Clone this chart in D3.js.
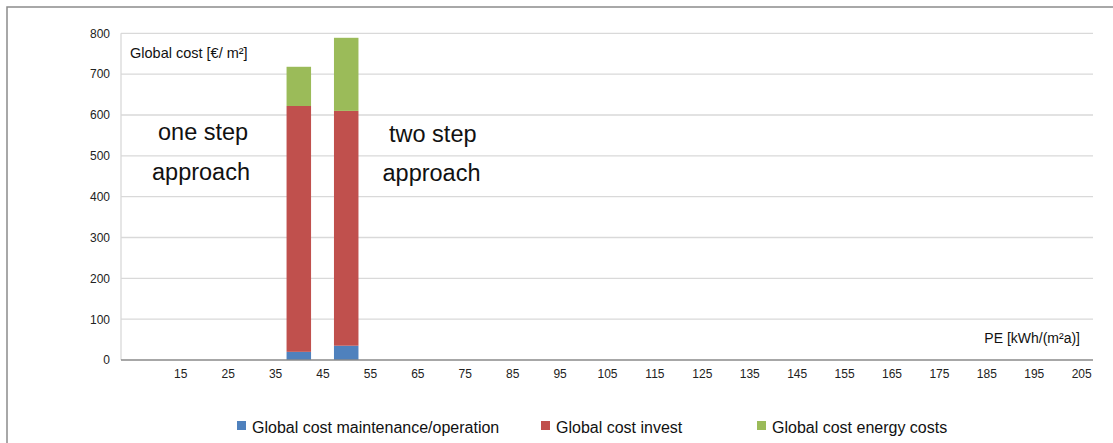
<!DOCTYPE html>
<html>
<head>
<meta charset="utf-8">
<script src="https://cdn.jsdelivr.net/npm/d3@7"></script>
<style>
  html, body { margin: 0; padding: 0; background: #fff; }
  svg { display: block; font-family: "Liberation Sans", Arial, sans-serif; }
</style>
</head>
<body>
<svg id="chart" width="1113" height="443"></svg>
<script>
// ---- data ----
const categories = [40, 50];                       // PE kWh/(m²a)
const maintenance = [20, 35];
const invest = [602, 575];
const energy = [96, 179];
const seriesNames = ["Global cost maintenance/operation", "Global cost invest", "Global cost energy costs"];
const seriesColors = ["#4F81BD", "#C0504D", "#9BBB59"];
const xTicks = [15, 25, 35, 45, 55, 65, 75, 85, 95, 105, 115, 125, 135, 145, 155, 165, 175, 185, 195, 205];
const yTicks = [0, 100, 200, 300, 400, 500, 600, 700, 800];

const svg = d3.select("#chart");
const pL = 121, pR = 1093, pT = 33.3, pB = 360;

// frame
svg.append("rect").attr("x", 7).attr("y", 7).attr("width", 1130).attr("height", 460)
  .attr("fill", "none").attr("stroke", "#8c8c8c").attr("stroke-width", 1.5);

const x = d3.scaleLinear().domain([2.5, 207.5]).range([pL, pR]);
const y = d3.scaleLinear().domain([0, 800]).range([pB, pT]);

// gridlines
svg.append("g").selectAll("line").data(yTicks.filter(d => d > 0)).join("line")
  .attr("x1", pL).attr("x2", pR)
  .attr("y1", d => y(d)).attr("y2", d => y(d))
  .attr("stroke", "#d9d9d9").attr("stroke-width", 1.3);
svg.append("line").attr("x1", pL).attr("x2", pL).attr("y1", pT).attr("y2", pB)
  .attr("stroke", "#d9d9d9").attr("stroke-width", 1.3);

// y axis labels
const yAxis = d3.axisLeft(y).tickValues(yTicks).tickSize(0).tickPadding(0);
const gy = svg.append("g").attr("transform", `translate(${pL - 11},0)`).call(yAxis);
gy.select(".domain").remove();
gy.selectAll("text").attr("font-size", 12).attr("fill", "#222")
  .attr("font-family", "Liberation Sans, Arial, sans-serif").attr("dy", "0.32em");

// stacked bars
const rows = categories.map((c, i) => ({ c, m: maintenance[i], inv: invest[i], e: energy[i] }));
const stack = d3.stack().keys(["m", "inv", "e"])(rows);
const barW = 24.5;
svg.append("g").selectAll("g").data(stack).join("g")
  .attr("fill", (d, i) => seriesColors[i])
  .selectAll("rect").data(d => d).join("rect")
  .attr("x", d => x(d.data.c) - barW / 2)
  .attr("width", barW)
  .attr("y", d => y(d[1]))
  .attr("height", d => y(d[0]) - y(d[1]));

// x axis
const xAxis = d3.axisBottom(x).tickValues(xTicks).tickSize(0).tickPadding(0).tickFormat(d3.format("d"));
const gx = svg.append("g").attr("transform", `translate(0,${pB})`).call(xAxis);
gx.select(".domain").remove();
gx.selectAll("text").attr("font-size", 12).attr("fill", "#222")
  .attr("font-family", "Liberation Sans, Arial, sans-serif").attr("y", 14).attr("dy", "0.32em");
svg.append("line").attr("x1", pL).attr("x2", pR).attr("y1", pB).attr("y2", pB)
  .attr("stroke", "#8a8a8a").attr("stroke-width", 1.5);

// annotations
svg.append("text").attr("x", 130).attr("y", 58).attr("font-size", 14.5).attr("fill", "#111")
  .text("Global cost [€/ m²]");
svg.append("text").attr("x", 1080).attr("y", 343).attr("text-anchor", "end").attr("font-size", 14).attr("fill", "#111")
  .text("PE [kWh/(m²a)]");
const big = [
  { t: "one step", x: 158, y: 140 },
  { t: "approach", x: 152, y: 179.5 },
  { t: "two step", x: 389, y: 141.5 },
  { t: "approach", x: 382.5, y: 181 }
];
svg.append("g").selectAll("text").data(big).join("text")
  .attr("x", d => d.x).attr("y", d => d.y).attr("font-size", 23.5).attr("fill", "#111")
  .text(d => d.t);

// legend
const legX = [237, 541, 757];
const lg = svg.append("g").selectAll("g").data(seriesNames).join("g")
  .attr("transform", (d, i) => `translate(${legX[i]},421)`);
lg.append("rect").attr("width", 9).attr("height", 9).attr("fill", (d, i) => seriesColors[i]);
lg.append("text").attr("x", 15).attr("y", 11.5).attr("font-size", 16).attr("fill", "#111").text(d => d);
</script>
</body>
</html>
